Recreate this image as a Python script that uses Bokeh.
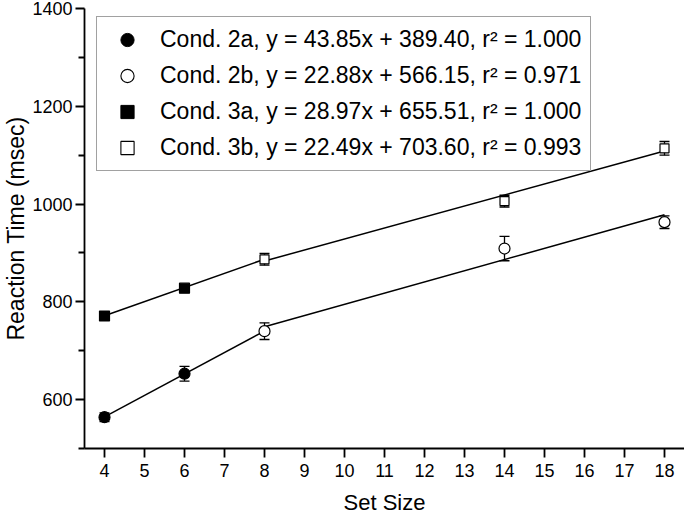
from bokeh.plotting import figure
from bokeh.models import FixedTicker, Legend, LegendItem, ColumnDataSource, Whisker, Range1d
from bokeh.embed import file_html
from bokeh.resources import INLINE

# ---- data ----
x_2a = [4, 6]
y_2a = [564, 653]
e_2a = [9, 15]

x_2b = [8, 14, 18]
y_2b = [740, 909, 963]
e_2b = [17, 25, 13]

x_3a = [4, 6]
y_3a = [771, 828]
e_3a = [5, 5]

x_3b = [8, 14, 18]
y_3b = [887, 1006, 1114]
e_3b = [12, 12, 14]

fit_slope = [43.85, 22.88, 28.97, 22.49]
fit_intercept = [389.40, 566.15, 655.51, 703.60]
fit_x_start = [4, 8, 4, 8]
fit_x_end = [8, 18, 8, 18]

labels = [
    "Cond. 2a, y = 43.85x + 389.40, r\u00b2 = 1.000",
    "Cond. 2b, y = 22.88x + 566.15, r\u00b2 = 0.971",
    "Cond. 3a, y = 28.97x + 655.51, r\u00b2 = 1.000",
    "Cond. 3b, y = 22.49x + 703.60, r\u00b2 = 0.993",
]

x_ticks = list(range(4, 19))
y_ticks = [600, 800, 1000, 1200, 1400]
y_minor = [500, 700, 900, 1100, 1300]

FONT = "Liberation Sans"

p = figure(frame_width=600, frame_height=440, min_border_left=70, min_border_right=0,
           min_border_top=8, min_border_bottom=56,
           x_range=Range1d(3.5, 18.5), y_range=Range1d(500, 1400),
           output_backend="svg", toolbar_location=None)
p.outline_line_color = None
p.xgrid.visible = False
p.ygrid.visible = False

for ax in (p.xaxis[0], p.yaxis[0]):
    ax.axis_line_width = 1.8
    ax.axis_line_color = "black"
    ax.major_tick_line_width = 1.8
    ax.minor_tick_line_width = 1.8
    ax.major_tick_line_color = "black"
    ax.minor_tick_line_color = "black"
    ax.major_tick_out = 9
    ax.major_tick_in = 0
    ax.minor_tick_out = 6
    ax.minor_tick_in = 0
    ax.major_label_text_font = FONT
    ax.major_label_text_font_size = "18px"
    ax.major_label_text_color = "black"
    ax.axis_label_text_font = FONT
    ax.axis_label_text_font_style = "normal"
    ax.axis_label_text_color = "black"

p.xaxis.axis_label_text_font_size = "22px"
p.yaxis.axis_label_text_font_size = "23px"
p.xaxis.ticker = FixedTicker(ticks=x_ticks, minor_ticks=[])
p.yaxis.ticker = FixedTicker(ticks=y_ticks, minor_ticks=y_minor)
p.xaxis.axis_label = "Set Size"
p.yaxis.axis_label = "Reaction Time (msec)"
p.xaxis.major_label_standoff = 6
p.yaxis.major_label_standoff = 3
p.xaxis.axis_label_standoff = 10
p.yaxis.axis_label_standoff = 0

# fitted lines
for s, b, x0, x1 in zip(fit_slope, fit_intercept, fit_x_start, fit_x_end):
    xs = [x0, x1]
    ys = [s * x + b for x in xs]
    p.line(xs, ys, line_color="black", line_width=1.5)

# error bars
for xs, ys, es in [(x_2a, y_2a, e_2a), (x_2b, y_2b, e_2b), (x_3a, y_3a, e_3a), (x_3b, y_3b, e_3b)]:
    src = ColumnDataSource(dict(x=xs, lo=[y - e for y, e in zip(ys, es)], hi=[y + e for y, e in zip(ys, es)]))
    w = Whisker(base="x", lower="lo", upper="hi", source=src, line_color="black", line_width=1.3)
    w.upper_head.size = 10
    w.lower_head.size = 10
    w.upper_head.line_width = 1.3
    w.lower_head.line_width = 1.3
    p.add_layout(w)

# markers
p.scatter(x_2a, y_2a, marker="circle", size=11, fill_color="black", line_color="black", line_width=1.2)
p.scatter(x_2b, y_2b, marker="circle", size=11, fill_color="white", line_color="black", line_width=1.2)
p.scatter(x_3a, y_3a, marker="square", size=10, fill_color="black", line_color="black", line_width=1.2)
p.scatter(x_3b, y_3b, marker="square", size=9, fill_color="white", line_color="black", line_width=1.2)

# legend proxies (smaller markers, no visible data)
nan = [float("nan")]
proxies = [
    p.scatter(nan, nan, marker="circle", size=8, fill_color="black", line_color="black"),
    p.scatter(nan, nan, marker="circle", size=8, fill_color="white", line_color="black", line_width=1.1),
    p.scatter(nan, nan, marker="square", size=7, fill_color="black", line_color="black"),
    p.scatter(nan, nan, marker="square", size=7, fill_color="white", line_color="black", line_width=1.1),
]

legend = Legend(items=[LegendItem(label=l, renderers=[r]) for l, r in zip(labels, proxies)],
                location=(12, 277))
legend.label_text_font = FONT
legend.label_text_font_size = "23px"
legend.label_text_color = "black"
legend.glyph_width = 48
legend.glyph_height = 33
legend.label_height = 33
legend.label_width = 424
legend.label_standoff = 9
legend.spacing = 3
legend.padding = 6
legend.margin = 0
legend.border_line_color = "#444444"
legend.border_line_width = 1.5
legend.background_fill_alpha = 1
p.add_layout(legend, "center")

open("out.html", "w").write(file_html(p, INLINE))
